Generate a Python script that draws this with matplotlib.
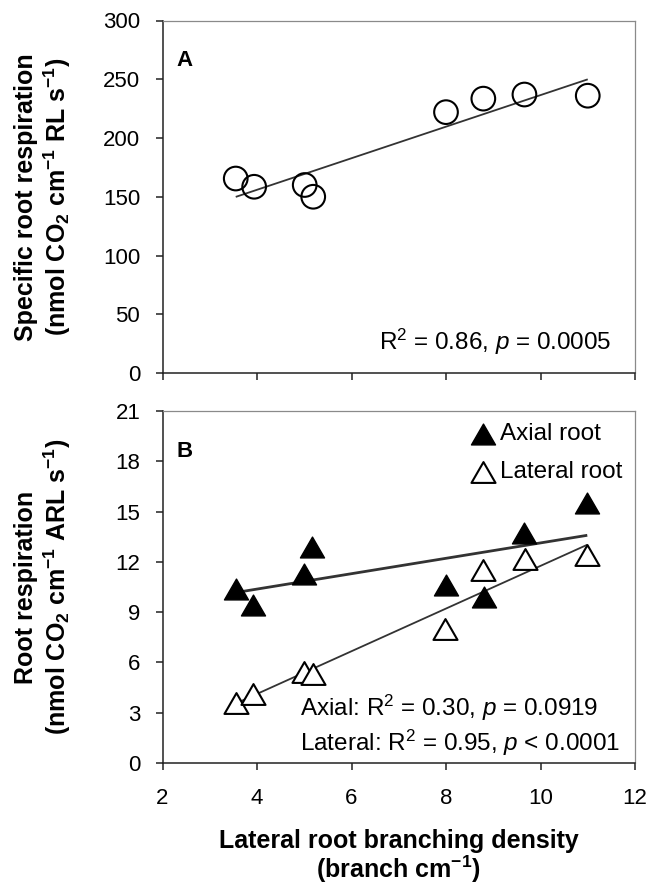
import numpy as np
import matplotlib
matplotlib.use("Agg")
import matplotlib.pyplot as plt
from matplotlib.path import Path

plt.rcParams['font.family'] = ['Liberation Sans', 'DejaVu Sans']
plt.rcParams['mathtext.fontset'] = 'custom'
plt.rcParams['mathtext.rm'] = 'Liberation Sans'
plt.rcParams['mathtext.it'] = 'Liberation Sans:italic'
plt.rcParams['mathtext.bf'] = 'Liberation Sans:bold'

# Panel A data
density_a = [3.55, 3.94, 5.01, 5.19, 8.00, 8.79, 9.66, 11.00]
specific_resp = [165.5, 158.5, 160.0, 150.0, 222.0, 233.5, 237.0, 236.0]
fit_a = (13.43, 102.2)          # slope, intercept

# Panel B data
density_b = [3.56, 3.92, 4.99, 5.17, 8.00, 8.80, 9.65, 10.99]
axial_resp = [10.4, 9.4, 11.3, 12.9, 10.6, 9.9, 13.7, 15.5]
density_lat = [3.56, 3.92, 4.99, 5.19, 7.98, 8.79, 9.68, 10.99]
lateral_resp = [3.6, 4.1, 5.4, 5.3, 8.0, 11.5, 12.2, 12.4]
fit_axial = (0.459, 8.54)
fit_lateral = (1.273, -0.97)

TRI = Path([(-1, -0.866), (1, -0.866), (0, 0.866), (-1, -0.866)],
           [Path.MOVETO, Path.LINETO, Path.LINETO, Path.CLOSEPOLY])

fig = plt.figure(figsize=(6.61, 8.83), dpi=100)
L, W = 162.5 / 661, (635 - 162.5) / 661
axA = fig.add_axes([L, 1 - 373 / 883, W, (373 - 20.5) / 883])
axB = fig.add_axes([L, 1 - 763 / 883, W, (763 - 411) / 883])

TICK_FS = 16
LAB_FS = 18
ANN_FS = 17.5

def style(ax):
    for s in ['top', 'right']:
        ax.spines[s].set_color('#8a8a8a')
        ax.spines[s].set_linewidth(0.9)
    for s in ['left', 'bottom']:
        ax.spines[s].set_color('#222222')
        ax.spines[s].set_linewidth(1.1)
    ax.tick_params(direction='out', length=5, width=1.1, labelsize=TICK_FS, color='#222222')
    ax.tick_params(axis='y', pad=11)
    ax.tick_params(axis='x', pad=13)
    ax.set_xlim(2, 12)
    ax.set_xticks(np.arange(2, 13, 2))

def fitline(ax, x, fit, lw):
    m, b = fit
    xx = np.array([min(x), max(x)])
    ax.plot(xx, m * xx + b, color='#333333', lw=lw, zorder=1, solid_capstyle='butt')

# Panel A
style(axA)
axA.set_ylim(0, 300)
axA.set_yticks(np.arange(0, 301, 50))
axA.tick_params(axis='x', labelbottom=False)
fitline(axA, density_a, fit_a, 1.3)
axA.scatter(density_a, specific_resp, s=290, facecolors='none', edgecolors='black',
            linewidths=1.5, zorder=3)
axA.text(0.03, 0.915, 'A', transform=axA.transAxes, fontsize=16, fontweight='bold',
         va='top', ha='left')
axA.text(0.95, 0.045, r'R$^{2}$ = 0.86, $p$ = 0.0005', transform=axA.transAxes,
         fontsize=ANN_FS, ha='right', va='bottom')
axA.set_ylabel('Specific root respiration\n' + r'(nmol CO$_\mathbf{2}$ cm$^\mathbf{-1}$ RL s$^\mathbf{-1}$)',
               fontsize=LAB_FS, fontweight='bold', linespacing=1.15)
axA.yaxis.set_label_coords(-0.19, 0.5)

# Panel B
style(axB)
axB.set_ylim(0, 21)
axB.set_yticks(np.arange(0, 22, 3))
fitline(axB, density_b, fit_axial, 2.0)
fitline(axB, density_lat, fit_lateral, 1.3)
axB.scatter(density_b, axial_resp, s=300, marker=TRI, facecolors='black',
            edgecolors='black', linewidths=1.0, zorder=3, label='Axial root')
axB.scatter(density_lat, lateral_resp, s=300, marker=TRI, facecolors='white',
            edgecolors='black', linewidths=1.5, zorder=3, label='Lateral root')
axB.text(0.03, 0.915, 'B', transform=axB.transAxes, fontsize=16, fontweight='bold',
         va='top', ha='left')
axB.text(0.29, 0.156, r'Axial: R$^{2}$ = 0.30, $p$ = 0.0919', transform=axB.transAxes,
         fontsize=ANN_FS, ha='left', va='center')
axB.text(0.29, 0.057, r'Lateral: R$^{2}$ = 0.95, $p$ < 0.0001', transform=axB.transAxes,
         fontsize=ANN_FS, ha='left', va='center')
axB.legend(loc='upper right', bbox_to_anchor=(1.0, 1.0), frameon=False, fontsize=ANN_FS,
           handletextpad=0.1, borderaxespad=0.3, labelspacing=0.65, markerscale=1.0,
           borderpad=0.2, handlelength=1.2)
axB.set_ylabel('Root respiration\n' + r'(nmol CO$_\mathbf{2}$ cm$^\mathbf{-1}$ ARL s$^\mathbf{-1}$)',
               fontsize=LAB_FS, fontweight='bold', linespacing=1.15)
axB.yaxis.set_label_coords(-0.19, 0.5)
axB.set_xlabel('Lateral root branching density\n' + r'(branch cm$^\mathbf{-1}$)',
               fontsize=LAB_FS, fontweight='bold', linespacing=1.0, va='top')
axB.xaxis.set_label_coords(0.5, -0.188)

fig.savefig('out.png', dpi=100)
